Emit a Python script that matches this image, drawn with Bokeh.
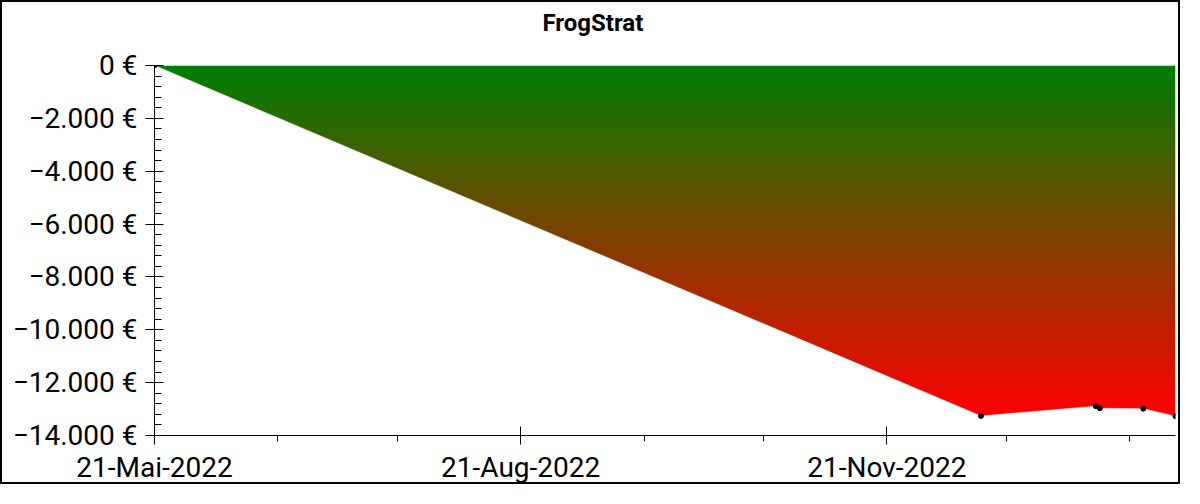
import numpy as np
import pandas as pd
from bokeh.plotting import figure
from bokeh.models import FixedTicker, CustomJSTickFormatter, Range1d, Title
from bokeh.embed import file_html
from bokeh.resources import INLINE

# ---- data ----
title_text = "FrogStrat"
dates = ["2022-05-21 00:00", "2022-12-14 15:00", "2023-01-12 12:00",
         "2023-01-13 12:00", "2023-01-24 10:00", "2023-02-01 12:00"]
values = [0, -13260, -12890, -12970, -12985, -13270]

y_ticks = [0, -2000, -4000, -6000, -8000, -10000, -12000, -14000]
y_labels = ["0 €", "\u22122.000 €", "\u22124.000 €", "\u22126.000 €", "\u22128.000 €",
            "\u221210.000 €", "\u221212.000 €", "\u221214.000 €"]
x_major = ["2022-05-21", "2022-08-21", "2022-11-21"]
x_labels = ["21-Mai-2022", "21-Aug-2022", "21-Nov-2022"]
x_minor = ["2022-06-21", "2022-07-21", "2022-09-21", "2022-10-21",
           "2022-12-21", "2023-01-21"]


def to_ms(seq):
    return [float(v) for v in pd.to_datetime(seq, format="mixed").values.astype("datetime64[ms]").astype("int64")]


x_ms = to_ms(dates)
xmaj_ms = to_ms(x_major)
xmin_ms = to_ms(x_minor)
y_min, y_max = y_ticks[-1], y_ticks[0]
x_start, x_end = x_ms[0], x_ms[-1]

p = figure(width=1180, height=484, output_backend="svg", toolbar_location=None,
           title=None, x_axis_type="datetime",
           x_range=Range1d(x_start, x_end), y_range=Range1d(y_min, y_max),
           min_border_left=152, min_border_right=7, min_border_top=63,
           min_border_bottom=49)
p.styles = {"border": "2px solid black"}
p.outline_line_color = None
p.grid.visible = False
p.background_fill_color = "white"
p.border_fill_color = "white"

# spacer between title and plot frame, then the title itself (centred on the canvas)
spacer = Title(text=" ", text_font_size="1px", standoff=18)
main_title = Title(text=title_text, align="left", vertical_align="top", offset=388,
                   text_font="Roboto", text_font_style="bold", text_font_size="24px",
                   text_color="black", standoff=12)
p.add_layout(spacer, "above")
p.add_layout(main_title, "above")

# gradient fill (green at 0 -> red at lowest value)
top_col = np.array([0, 128, 0])
bot_col = np.array([255, 0, 0])
lowest = min(values)
n = 512
t = np.linspace(0.0, 1.0, n)[:, None]  # 0 bottom (red) -> 1 top (green)
rgb = (bot_col * (1 - t) + top_col * t).astype(np.uint32)
img = np.empty((n, 2), dtype=np.uint32)
view = img.view(dtype=np.uint8).reshape((n, 2, 4))
view[:, :, 0] = rgb[:, 0:1]
view[:, :, 1] = rgb[:, 1:2]
view[:, :, 2] = rgb[:, 2:3]
view[:, :, 3] = 255
p.image_rgba(image=[img], x=x_start, y=lowest, dw=x_end - x_start, dh=0 - lowest)

# white mask below the line
p.patch(x=x_ms + [x_end, x_start], y=values + [y_min, y_min],
        fill_color="white", line_color="white", line_width=0.5)

p.scatter(x=x_ms, y=values, size=5, color="black")

# axes
p.xaxis.ticker = FixedTicker(ticks=xmaj_ms, minor_ticks=xmin_ms)
p.xaxis.formatter = CustomJSTickFormatter(args=dict(tvals=xmaj_ms, tlabels=x_labels), code="""
const i = tvals.indexOf(tick); return i >= 0 ? tlabels[i] : '';
""")
p.yaxis.ticker = FixedTicker(ticks=y_ticks,
                             minor_ticks=[v for v in range(y_min, y_max + 1, 400)])
p.yaxis.formatter = CustomJSTickFormatter(args=dict(tvals=y_ticks, tlabels=y_labels), code="""
const i = tvals.indexOf(tick); return i >= 0 ? tlabels[i] : '';
""")

for ax in (p.xaxis[0], p.yaxis[0]):
    ax.axis_line_color = "black"
    ax.major_tick_line_color = "black"
    ax.minor_tick_line_color = "black"
    ax.major_label_text_font = "Roboto"
    ax.major_label_text_font_size = "28px"
    ax.major_label_text_color = "black"
    ax.major_tick_in = 9
    ax.major_tick_out = 9

p.xaxis.minor_tick_in = 0
p.xaxis.minor_tick_out = 6
p.xaxis.major_label_standoff = 6
p.yaxis.minor_tick_in = 7
p.yaxis.minor_tick_out = 0
p.yaxis.major_label_standoff = 8

open("out.html", "w").write(file_html(p, INLINE))
